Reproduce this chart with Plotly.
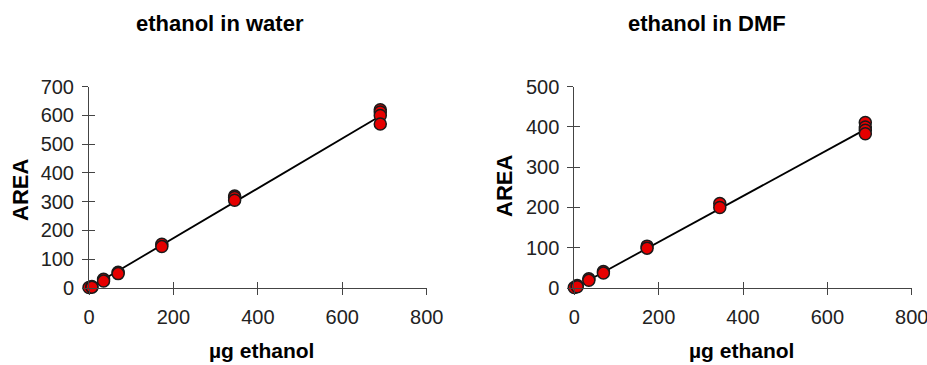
import plotly.graph_objects as go

# ---- data ----
water_x = [0, 6.9, 6.9, 34.5, 34.5, 69, 69, 172.5, 172.5, 345, 345, 345, 690, 690, 690, 690]
water_y = [2, 5, 3, 30, 24, 55, 50, 152, 144, 320, 315, 305, 620, 612, 600, 570]
water_fit_x = [0, 690]
water_fit_y = [0, 598]

dmf_x = [0, 6.9, 6.9, 34.5, 34.5, 69, 69, 172.5, 172.5, 345, 345, 690, 690, 690, 690]
dmf_y = [1, 6, 3, 23, 19, 41, 37, 104, 99, 210, 200, 411, 400, 392, 383]
dmf_fit_x = [0, 690]
dmf_fit_y = [0, 394]

x_ticks = [0, 200, 400, 600, 800]
water_y_ticks = [0, 100, 200, 300, 400, 500, 600, 700]
dmf_y_ticks = [0, 100, 200, 300, 400, 500]

titles = ["ethanol in water", "ethanol in DMF"]
x_title = "µg ethanol"
y_title = "AREA"

W, H = 927, 365
FONT = "Liberation Sans, Arial, sans-serif"
AXCOL = "#444"
TXT = "#222"

fig = go.Figure()

marker = dict(size=12, color="#e60000", line=dict(color="#1a1a1a", width=1.5))

def add_panel(xs, ys, fx, fy, xa, ya):
    fig.add_trace(go.Scatter(x=fx, y=fy, mode="lines", line=dict(color="black", width=1.8),
                             xaxis=xa, yaxis=ya, showlegend=False, hoverinfo="skip"))
    fig.add_trace(go.Scatter(x=xs, y=ys, mode="markers", marker=marker, cliponaxis=False,
                             xaxis=xa, yaxis=ya, showlegend=False))

add_panel(water_x, water_y, water_fit_x, water_fit_y, "x", "y")
add_panel(dmf_x, dmf_y, dmf_fit_x, dmf_fit_y, "x2", "y2")

# invisible traces for overlay axes (inside half of the crossing ticks)
fig.add_trace(go.Scatter(x=[None], y=[None], xaxis="x3", yaxis="y3", showlegend=False))
fig.add_trace(go.Scatter(x=[None], y=[None], xaxis="x4", yaxis="y4", showlegend=False))

xd1 = [89 / W, 426.7 / W]
xd2 = [574.3 / W, 911.7 / W]
yd = [(H - 288) / H, (H - 86.7) / H]

tickfont = dict(family=FONT, size=20, color=TXT)

def xaxis_cfg(domain, anchor):
    return dict(domain=domain, anchor=anchor, range=[0, 800], tickvals=x_ticks,
                showgrid=False, zeroline=False, showline=True, linecolor=AXCOL, linewidth=1,
                ticks="outside", ticklen=6, tickcolor=AXCOL, tickwidth=1,
                tickfont=tickfont, ticklabelstandoff=5, ticklabeloverflow="allow",
                automargin=False, fixedrange=True)

def yaxis_cfg(domain, anchor, top, tv):
    return dict(domain=domain, anchor=anchor, range=[0, top], tickvals=tv,
                showgrid=False, zeroline=False, showline=True, linecolor=AXCOL, linewidth=1,
                ticks="outside", ticklen=6, tickcolor=AXCOL, tickwidth=1,
                tickfont=tickfont, ticklabelstandoff=4, ticklabeloverflow="allow",
                automargin=False, fixedrange=True)

def overlay_x(over, anchor, domain):
    return dict(overlaying=over, anchor=anchor, domain=domain, range=[0, 800], tickvals=x_ticks,
                showgrid=False, zeroline=False, showline=False, showticklabels=False,
                ticks="inside", ticklen=6, tickcolor=AXCOL, tickwidth=1, side="bottom")

def overlay_y(over, anchor, domain, top, tv):
    return dict(overlaying=over, anchor=anchor, domain=domain, range=[0, top], tickvals=tv,
                showgrid=False, zeroline=False, showline=False, showticklabels=False,
                ticks="inside", ticklen=6, tickcolor=AXCOL, tickwidth=1, side="left")

fig.update_layout(
    width=W, height=H,
    margin=dict(l=0, r=0, t=0, b=0),
    paper_bgcolor="white", plot_bgcolor="white",
    font=dict(family=FONT, color=TXT),
    xaxis=xaxis_cfg(xd1, "y"),
    yaxis=yaxis_cfg(yd, "x", 700, water_y_ticks),
    xaxis2=xaxis_cfg(xd2, "y2"),
    yaxis2=yaxis_cfg(yd, "x2", 500, dmf_y_ticks),
    xaxis3=overlay_x("x", "y3", xd1),
    yaxis3=overlay_y("y", "x3", yd, 700, water_y_ticks),
    xaxis4=overlay_x("x2", "y4", xd2),
    yaxis4=overlay_y("y2", "x4", yd, 500, dmf_y_ticks),
)

bold = dict(family="Liberation Sans, Arial, sans-serif", size=22, color="black")
bold_x = dict(family="Liberation Sans, Arial, sans-serif", size=21, color="black")
ann = [
    dict(text="<b>%s</b>" % titles[0], x=220 / W, y=1 - 24 / H, font=bold),
    dict(text="<b>%s</b>" % titles[1], x=707 / W, y=1 - 24 / H, font=bold),
    dict(text="<b>%s</b>" % x_title, x=261 / W, y=1 - 350 / H, font=bold_x),
    dict(text="<b>%s</b>" % x_title, x=741 / W, y=1 - 350 / H, font=bold_x),
    dict(text="<b>%s</b>" % y_title, x=20 / W, y=1 - 190 / H, textangle=-90, font=bold),
    dict(text="<b>%s</b>" % y_title, x=504 / W, y=1 - 186 / H, textangle=-90, font=bold),
]
for a in ann:
    fig.add_annotation(xref="paper", yref="paper", showarrow=False, xanchor="center",
                       yanchor="middle", **a)

fig.write_html(
    "out.html",
    config={"displayModeBar": False},
    post_script="document.body.style.margin='0';document.body.style.overflow='hidden';",
)
